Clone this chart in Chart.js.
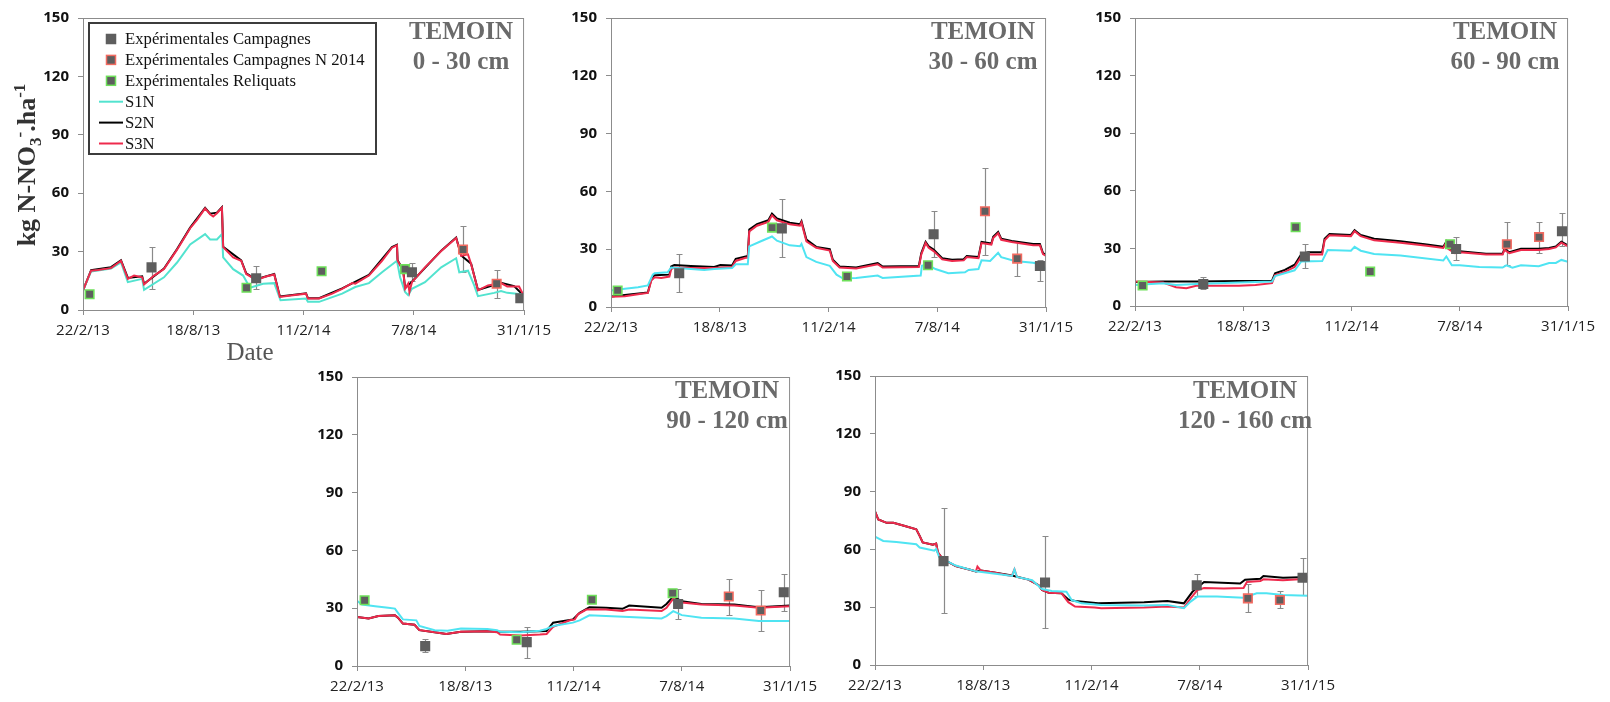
<!DOCTYPE html>
<html>
<head>
<meta charset="utf-8">
<script src="https://cdn.jsdelivr.net/npm/chart.js@4.4.1/dist/chart.umd.min.js"></script>
<style>
body { margin: 0; background: #fff; width: 1610px; height: 702px; position: relative; overflow: hidden; }
canvas { position: absolute; }
.ttl { position: absolute; width: 180px; text-align: center; font: bold 25px "Liberation Serif", serif; color: #6a6a6a; line-height: 30px; white-space: nowrap; z-index: 2; }
#ylab { position: absolute; left: -95px; top: 150px; width: 240px; height: 30px; line-height: 30px; text-align: center; transform: rotate(-90deg); font: bold 26px "Liberation Serif", serif; color: #333; white-space: nowrap; z-index: 2; }
#ylab sub, #ylab sup { font-size: 17px; }
#xlab { position: absolute; left: 200px; top: 337px; width: 100px; text-align: center; font: 25px "Liberation Serif", serif; color: #555; line-height: 30px; z-index: 2; }
</style>
</head>
<body>
<div id="ylab">kg N-NO<sub>3</sub><sup>-</sup>.ha<sup>-1</sup></div>
<div id="xlab">Date</div>
<div class="ttl" style="left:371px;top:16px">TEMOIN<br>0 - 30 cm</div>
<div class="ttl" style="left:893px;top:16px">TEMOIN<br>30 - 60 cm</div>
<div class="ttl" style="left:1415px;top:16px">TEMOIN<br>60 - 90 cm</div>
<div class="ttl" style="left:637px;top:375px">TEMOIN<br>90 - 120 cm</div>
<div class="ttl" style="left:1155px;top:375px">TEMOIN<br>120 - 160 cm</div>
<script>
// x axis = days since 22/2/13, ticks every 177 days
const tickDays = [0, 177, 354, 531, 708];
const dateLabels = ['22/2/13', '18/8/13', '11/2/14', '7/8/14', '31/1/15'];

// measured points: [day, value, errLow, errHigh]
// 0 - 30 cm
const p1Camp = [[110, 21.9, 10.9, 32.5], [278, 16.3, 10.9, 22.4], [528, 19.4, 15, 24], [702, 6, 6, 6]];
const p1N14 = [[610, 31.1, 19.7, 43.3], [664, 13.5, 6.2, 20.5]];
const p1Rel = [[10.6, 8.1], [262.5, 11.4], [383, 19.9], [517, 21]];
const p1S1N = [[0,10.1],[13,19.8],[24,20.3],[45,21.3],[61,24.5],[72,14.3],[95,16],[98,10.4],[130,16.8],[151,24.4],[172,33.7],[196,39],[204,36.2],[215,36.2],[223,39],[225,27],[241,21],[257,17.7],[268,11.4],[289,13.5],[307,13.8],[317,5],[358,5.9],[361,4.2],[379,4.2],[416,8.4],[437,11.8],[459,13.8],[480,19.4],[504,25.3],[509,16.8],[517,9.3],[522,7.6],[528,10.9],[549,14.3],[575,21.9],[599,26.6],[604,19.4],[618,20.2],[628,12.6],[634,7.1],[660,8.8],[671,9.8],[681,8.8],[708,8]];
const p1S2N = [[0,10],[13,20.5],[45,22],[61,25.5],[72,16.5],[95,17.3],[98,13.5],[130,21.3],[151,31.3],[172,42.3],[196,52.5],[204,49.5],[215,50],[223,52.8],[225,32.5],[254,25.5],[262,18.8],[278,15.8],[307,18.5],[316,7],[358,8.6],[361,6.1],[379,6.1],[416,11.1],[459,18],[496,32.3],[504,33.5],[505,25.5],[514,20.5],[517,11.2],[528,14.5],[575,30.5],[599,37.2],[607,28],[623,23.8],[634,10.3],[671,14],[692,12.3],[708,7.2]];
const p1S3N = [[0,10.1],[13,20.2],[24,20.5],[45,21.5],[61,25.3],[72,16],[82,17.7],[95,16.8],[98,13.1],[114,17.7],[130,21],[151,31],[172,42],[183,46.3],[196,52.2],[204,49.2],[209,48],[215,49.7],[223,52.5],[225,32.3],[241,27],[254,25.3],[262,18.5],[278,15.5],[294,17.2],[307,18.2],[316,6.7],[337,7.6],[358,8.4],[361,5.9],[379,5.9],[400,8.4],[416,10.9],[432,13.8],[437,13.5],[459,17.7],[480,25.3],[496,32],[504,33.2],[505,25.3],[514,20.2],[517,10.9],[522,13.5],[524,9.3],[528,14.3],[549,21.9],[575,30.3],[599,37],[607,27.8],[618,28.6],[623,23.6],[634,10.1],[650,12.6],[671,13.8],[681,12.1],[700,12.1],[708,7]];

// 30 - 60 cm
const p2Camp = [[111, 17.5, 8, 27.3], [278, 40.8, 25.9, 56.1], [525, 37.8, 25.9, 49.7], [698, 21.3, 13.6, 24.4]];
const p2N14 = [[608.6, 49.7, 27, 72.2], [661, 25.1, 16.3, 33.7]];
const p2Rel = [[10.8, 8.6], [262, 41.2], [384, 15.8], [516, 21.7]];
const p2S1N = [[0,8.6],[22.6,9.5],[44,10.3],[60,11.2],[68,16.8],[71,17.5],[92,18],[98,20.5],[130,19.7],[151.6,19.2],[168,19.7],[197,20.2],[203,22.2],[222.6,22.2],[225,31.5],[243,34],[262,36.6],[270,34.4],[291,32],[307.5,31.5],[310,32.7],[318,25.9],[334,23.4],[356,21.4],[367,16.8],[377,14.9],[399,15.1],[434,16.3],[442,15.1],[504,16.3],[506,21.4],[514,22.2],[528,19.7],[549,17.5],[576,18],[582,19.2],[598,19.7],[603,24.2],[617,23.9],[630,28.1],[635,25.9],[657,23.9],[687,23],[700,22],[708,19.5]];
const p2S2N = [[0,5.5],[60,7.5],[65.6,14.5],[71,16.5],[95,16.8],[98,21],[103,21.8],[130,21.3],[168,20.8],[178,21.8],[197,21.5],[203,25],[222.6,26.5],[225,40.2],[237.6,43],[256,45],[262,48.5],[270,46],[291,43.7],[307.5,43],[310,44.5],[318,35],[334,31.2],[356,30],[361,24.5],[372,21],[399,20.5],[434,22.8],[442,21],[501,21.3],[505,28],[512,33.8],[517,31.5],[525,29.8],[539,25.3],[555,24.5],[574,24.8],[579,26.5],[598,26],[603,33.8],[619,33],[622,36.5],[630,39],[635,35.5],[652,34.3],[687,32.7],[698,32.7],[703,28],[708,27]];
const p2S3N = [[0,5.3],[22.6,5.6],[44,6.6],[60,7.3],[65.6,13.7],[71,15.4],[81.7,15.1],[95,15.8],[98,19.7],[103,20.5],[130,20.2],[168,20.2],[178,20.5],[197,20.8],[203,23.9],[219,25.6],[222.6,25.6],[225,39.2],[237.6,42.2],[256,44.2],[262,47.6],[270,45],[291,42.9],[307.5,42.2],[310,43.9],[318,34],[334,30.7],[356,29.3],[361,23.9],[372,20.5],[399,20],[434,22.2],[442,20.5],[501,20.8],[505,27.3],[512,33.2],[517,30.7],[525,29],[539,24.7],[555,23.9],[574,24.2],[579,25.9],[598,25.3],[603,33.2],[619,32.4],[622,35.8],[630,38.3],[635,34.9],[652,33.7],[687,32],[698,32],[703,27.5],[708,26.5]];

// 60 - 90 cm
const p3Camp = [[111.6, 11.5, 8.8, 14.9], [277.7, 25.8, 19.8, 32.2], [525, 29.7, 24, 35.9], [698, 38.9, 31, 48.3]];
const p3N14 = [[608, 32.2, 21.2, 43.6], [660.6, 35.9, 27.6, 43.7]];
const p3Rel = [[12.4, 10.7], [262.6, 41], [384.5, 18], [515, 32.2]];
const p3S1N = [[0,11],[46,11.9],[67,11],[100,11.5],[170,12.2],[224,12.7],[229,15.6],[261,18.6],[272,23.2],[306,23.4],[315,29.2],[353,28.8],[359,30.8],[369,28.8],[391,27.1],[434,26.3],[504,23.7],[509,25.8],[518,21.2],[531,21.2],[563,20.3],[601,20],[607,21.2],[617,20],[631,21.2],[660,20.7],[677,22.4],[688,22.4],[697,24],[708,23]];
const p3S2N = [[0,12.5],[46,12.7],[100,12.8],[170,13],[224,13.2],[229,17],[245,18.8],[261,21.5],[272,27],[283,28],[306,28],[310,35],[318,37.5],[353,37],[359,39.5],[369,37],[391,35],[434,33.7],[477,32],[504,30.8],[509,33.5],[512,30.5],[523,28.2],[531,28.5],[574,27.2],[601,27.2],[604,29.8],[612,28],[631,29.8],[660,29.8],[677,30.2],[688,31],[697,33.5],[708,31.5]];
const p3S3N = [[0,12.7],[46,12.2],[67,9.8],[84,9.3],[100,10.5],[132,10.5],[170,10.5],[197,11],[224,11.9],[229,16.1],[245,17.8],[261,20.3],[272,25.8],[283,26.8],[306,26.8],[310,34.2],[318,36.8],[353,36.4],[359,39],[369,36.4],[391,34.2],[434,33],[477,31.4],[504,30.2],[509,33],[512,29.7],[523,27.5],[531,28],[574,26.8],[601,26.8],[604,29.2],[612,27.5],[631,29.2],[660,29.2],[677,29.7],[688,30.5],[697,33],[708,31]];

// 90 - 120 cm
const p4Camp = [[111.5, 10.3, 7.3, 13.9], [277.5, 12.4, 4.2, 20.5], [525, 32.2, 24.2, 40], [697.7, 38.3, 28.8, 47.5]];
const p4N14 = [[607.8, 36.1, 26.4, 45.4], [660, 28.8, 18.3, 39.3]];
const p4Rel = [[12.4, 34.1], [261, 13.6], [384, 34.4], [516, 37.8]];
const p4S1N = [[0,33.9],[8,31.9],[29.6,31],[51,30.2],[62,29.8],[67,27.6],[75,24.2],[97,23.7],[102,20.8],[127,18.6],[148,18.3],[170,19.5],[213,19.2],[229,18.6],[234,17.8],[267,17.5],[299,18.3],[310,19.2],[320.6,20.8],[353,22.5],[364,23.7],[380,26.3],[407,25.9],[445,25.4],[498,24.7],[506,25.9],[517,28.5],[531,26.4],[563,25.1],[617,24.6],[657,23.4],[708,23.4]];
const p4S2N = [[0,25.4],[19,24.7],[35,25.9],[62,26.3],[67,25.1],[75,22],[94,21.4],[102,18.6],[127,17.5],[146,16.6],[170,17.8],[213,18],[229,17.8],[267,17.8],[310,18.2],[320.6,22.5],[353,24.2],[364,27.6],[380,30.5],[407,30.2],[434,29.7],[445,31.4],[498,30.2],[506,32.2],[517,36.1],[531,33.6],[563,32.2],[617,31.9],[657,30.5],[708,31.4]];
const p4S3N = [[0,25.4],[19,24.7],[35,25.9],[62,26.3],[67,25.1],[75,22],[94,21.4],[102,18.6],[127,17.5],[146,16.6],[170,17.8],[213,18],[229,17.5],[234,16.3],[267,15.8],[299,16.3],[310,16.6],[320.6,20.3],[348,23.7],[356,24.2],[361,26.8],[375,29.3],[407,29.3],[434,28.5],[445,29.3],[498,28.5],[506,30.2],[517,34.9],[531,33],[563,31.9],[617,31.4],[657,30.2],[708,31]];

// 120 - 160 cm
const p5Camp = [[112, 53.9, 26.9, 81.5], [278, 42.8, 19.3, 67], [526, 41.4, 36, 47], [699, 45.3, 36.3, 55.4]];
const p5N14 = [[609.6, 34.6, 27.3, 42.3], [662, 33.7, 29.5, 38.4]];
const p5Rel = [];
const p5S1N = [[0,66.6],[13.5,64.4],[35,63.9],[67.5,62.7],[73,61],[97,59.3],[100,60.2],[105,55.9],[132,51.6],[165,48.6],[197,47.4],[224,46.2],[228,49.6],[232,45.7],[257,44],[273,39.4],[289,38.4],[313,38],[321.5,33.7],[338,32],[370,31.2],[440,30.9],[478,31.2],[505,29.5],[516,32.9],[527,35.5],[559,35.5],[602.5,34.9],[624,37.2],[640,37.2],[667,36.3],[708,36]];
const p5S2N = [[0,79.8],[5.4,75.5],[19,73.8],[30,73.8],[46,72.4],[67.5,70.4],[73,67],[78,63.6],[94.6,62.4],[100,63],[102.7,58.5],[110.8,55],[132,51.3],[154,49.6],[165,48.6],[173,49],[197,47.9],[224,46.5],[251,44.3],[267.5,41.4],[273,38.9],[284,37.5],[305,37.2],[316,34],[327,33.2],[365,32],[440,32.6],[478,33.2],[505,32],[519,38],[538,43.1],[597,42.3],[605,44.3],[630,44.8],[635,46.2],[667,45.3],[708,45.7]];
const p5S3N = [[0,79.8],[5.4,75.5],[19,73.8],[30,73.8],[46,72.4],[67.5,70.4],[73,67],[78,63.6],[94.6,62.4],[100,63],[102.7,58.5],[110.8,55],[132,51.3],[154,49.6],[165,48.6],[167.5,51.1],[173,49],[197,47.9],[219,46.5],[224,46.5],[228,49.6],[232,45.7],[251,44.3],[267.5,41.4],[273,38.9],[284,37.5],[305,37.2],[316,32.6],[327,30.3],[359,29.8],[370,29.5],[440,29.8],[478,30.3],[505,29.8],[516,34.6],[527,38.9],[538,40],[570,39.7],[602.5,40],[608,43.1],[630,43.6],[635,44.5],[667,44],[694,44.5],[708,44.8]];

const panels = [
    { L: 83, R: 528, T: 12, B: 310, camp: p1Camp, n14: p1N14, rel: p1Rel, s1: p1S1N, s2: p1S2N, s3: p1S3N, legend: true, cyan: '#52e3cf', redTop: true },
    { L: 611, R: 1050, T: 12, B: 307, camp: p2Camp, n14: p2N14, rel: p2Rel, s1: p2S1N, s2: p2S2N, s3: p2S3N, cyan: '#4fe4f2' },
    { L: 1135, R: 1572, T: 12, B: 306, camp: p3Camp, n14: p3N14, rel: p3Rel, s1: p3S1N, s2: p3S2N, s3: p3S3N, cyan: '#4fe4f2' },
    { L: 357, R: 794, T: 371, B: 666, camp: p4Camp, n14: p4N14, rel: p4Rel, s1: p4S1N, s2: p4S2N, s3: p4S3N, cyan: '#4fe4f2' },
    { L: 875, R: 1312, T: 370, B: 665, camp: p5Camp, n14: p5N14, rel: p5Rel, s1: p5S1N, s2: p5S2N, s3: p5S3N, cyan: '#4fe4f2' }
];

const axisGray = '#8c8c8c';
const pts = arr => arr.map(r => ({ x: r[0], y: r[1], lo: r[2], hi: r[3] }));
const xy = arr => arr.map(r => ({ x: r[0], y: r[1] }));

// plot border on all four sides
const frame = {
    id: 'frame',
    afterDraw(chart) {
        const { ctx, chartArea: a } = chart;
        ctx.save();
        ctx.strokeStyle = axisGray;
        ctx.lineWidth = 1;
        ctx.strokeRect(a.left + 0.5, a.top + 0.5, a.width - 1, a.height);
        ctx.restore();
    }
};

const errorBars = {
    id: 'errorBars',
    beforeDatasetsDraw(chart) {
        const { ctx, scales: { x, y } } = chart;
        ctx.save();
        ctx.strokeStyle = '#8a8a8a';
        ctx.lineWidth = 1.2;
        chart.data.datasets.forEach(ds => {
            if (!ds.isPoint) return;
            ds.data.forEach(p => {
                if (p.lo == null || p.lo === p.hi) return;
                const px = Math.round(x.getPixelForValue(p.x)) + 0.5;
                const top = Math.round(y.getPixelForValue(p.hi)) + 0.5;
                const bot = Math.round(y.getPixelForValue(p.lo)) + 0.5;
                ctx.beginPath();
                ctx.moveTo(px, top); ctx.lineTo(px, bot);
                ctx.moveTo(px - 3, top); ctx.lineTo(px + 3, top);
                ctx.moveTo(px - 3, bot); ctx.lineTo(px + 3, bot);
                ctx.stroke();
            });
        });
        ctx.restore();
    }
};

const boxLegend = {
    id: 'boxLegend',
    afterDatasetsDraw(chart, args, opts) {
        if (!opts.show) return;
        const { ctx, chartArea: a } = chart;
        const bx = a.left + 6, by = a.top + 5, bw = 287, bh = 131;
        ctx.save();
        ctx.fillStyle = '#fff';
        ctx.fillRect(bx, by, bw, bh);
        ctx.strokeStyle = '#3c3c3c';
        ctx.lineWidth = 2;
        ctx.strokeRect(bx, by, bw, bh);
        ctx.font = '16.7px "Liberation Serif"';
        ctx.textBaseline = 'middle';
        const items = chart.data.datasets.slice().sort((p, q) => p.legendIndex - q.legendIndex);
        items.forEach((ds, i) => {
            const cy = by + 16 + i * 20.9, cx = bx + 22;
            if (ds.isPoint) {
                ctx.fillStyle = ds.backgroundColor;
                ctx.strokeStyle = ds.borderColor;
                ctx.lineWidth = 1.5;
                ctx.fillRect(cx - 4.5, cy - 4.5, 9, 9);
                ctx.strokeRect(cx - 4.5, cy - 4.5, 9, 9);
            } else {
                ctx.strokeStyle = ds.borderColor;
                ctx.lineWidth = 2;
                ctx.beginPath();
                ctx.moveTo(cx - 12, cy); ctx.lineTo(cx + 12, cy);
                ctx.stroke();
            }
            ctx.fillStyle = '#111';
            ctx.fillText(ds.label, bx + 36, cy + 1);
        });
        ctx.restore();
    }
};

Chart.defaults.font.family = '"Open Sans"';

panels.forEach(pn => {
    const cv = document.createElement('canvas');
    const w = pn.R - pn.L + 90, h = pn.B - pn.T + 52;
    cv.width = w; cv.height = h;
    cv.style.left = (pn.L - 60) + 'px';
    cv.style.top = (pn.T - 12) + 'px';
    document.body.appendChild(cv);

    const pointSet = (label, arr, edge, idx) => ({
        label: label, data: pts(arr), isPoint: true, legendIndex: idx,
        showLine: false, pointStyle: 'rect', pointRadius: 6, pointHoverRadius: 6,
        backgroundColor: '#5e5e5e', borderColor: edge, borderWidth: 1.6, order: 0
    });
    const lineSet = (label, arr, color, idx, order) => ({
        label: label, data: xy(arr), legendIndex: idx, showLine: true,
        pointRadius: 0, borderColor: color, backgroundColor: color, borderWidth: 2, order: order
    });

    new Chart(cv, {
        type: 'scatter',
        data: {
            datasets: [
                pointSet('Expérimentales Campagnes', pn.camp, '#5e5e5e', 0),
                pointSet('Expérimentales Campagnes N 2014', pn.n14, '#f26a60', 1),
                pointSet('Expérimentales Reliquats', pn.rel, '#6ee05a', 2),
                lineSet('S1N', pn.s1, pn.cyan, 3, pn.redTop ? 3 : 1),
                lineSet('S2N', pn.s2, '#000000', 4, 4),
                lineSet('S3N', pn.s3, '#ee2a4c', 5, pn.redTop ? 1 : 2)
            ]
        },
        options: {
            responsive: false,
            animation: false,
            devicePixelRatio: 1,
            layout: { padding: { top: 12, right: 30, left: 0, bottom: 0 } },
            plugins: {
                legend: { display: false },
                tooltip: { enabled: false },
                boxLegend: { show: !!pn.legend }
            },
            scales: {
                x: {
                    type: 'linear', min: 0, max: 708,
                    afterBuildTicks: s => { s.ticks = tickDays.map(v => ({ value: v })); },
                    afterFit: s => { s.height = 40; },
                    ticks: {
                        autoSkip: false, maxRotation: 0, padding: 7, color: '#222',
                        font: { size: 15 },
                        callback: v => dateLabels[tickDays.indexOf(v)]
                    },
                    grid: { drawOnChartArea: false, tickLength: 5, color: axisGray },
                    border: { color: axisGray }
                },
                y: {
                    min: 0, max: 150,
                    afterFit: s => { s.width = 60; },
                    ticks: { stepSize: 30, padding: 9, color: '#111', font: { size: 15, weight: 'bold' } },
                    grid: { drawOnChartArea: false, tickLength: 5, color: axisGray },
                    border: { color: axisGray }
                }
            }
        },
        plugins: [frame, errorBars, boxLegend]
    });
});
</script>
</body>
</html>
